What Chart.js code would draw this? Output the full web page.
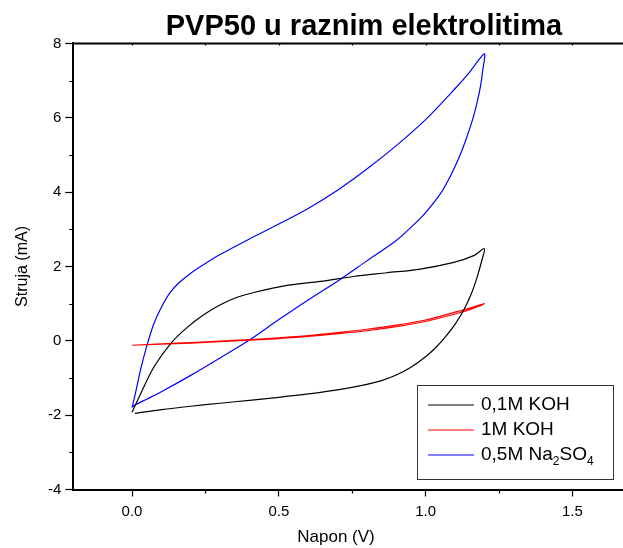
<!DOCTYPE html>
<html lang="sr">
<head>
<meta charset="UTF-8">
<title>PVP50 u raznim elektrolitima</title>
<script src="https://cdn.jsdelivr.net/npm/chart.js"></script>
<style>
    body { margin: 0; background: #fff; overflow: hidden; }
    #wrap { width: 728px; height: 548px; }
</style>
</head>
<body>
<div id="wrap"><canvas id="cv" width="728" height="548"></canvas></div>
<script>
// 0,1M KOH - one closed CV loop (upper branch, then back along the lower one)
const koh01V = [0, 0.029, 0.074, 0.131, 0.188, 0.244, 0.301, 0.358, 0.415, 0.528, 0.642, 0.755, 0.869, 0.982, 1.096, 1.164, 1.2,
                1.19, 1.175, 1.155, 1.13, 1.10, 1.07, 1.04, 1.0, 0.95, 0.9, 0.85, 0.8, 0.7, 0.6, 0.5, 0.4, 0.3, 0.2, 0.1, 0.01];
const koh01I = [-1.92, -1.43, -0.71, -0.08, 0.36, 0.70, 0.97, 1.17, 1.30, 1.49, 1.60, 1.73, 1.83, 1.93, 2.11, 2.29, 2.48,
                2.12, 1.70, 1.25, 0.83, 0.44, 0.13, -0.14, -0.43, -0.71, -0.92, -1.07, -1.17, -1.32, -1.43, -1.52, -1.60, -1.68, -1.76, -1.85, -1.95];

// 1M KOH
const koh1V = [0, 0.1, 0.2, 0.3, 0.4, 0.5, 0.6, 0.7, 0.8, 0.9, 1.0, 1.1, 1.15, 1.2,
               1.15, 1.1, 1.0, 0.9, 0.8, 0.7, 0.6, 0.5, 0.4, 0.3, 0.2, 0.1, 0];
const koh1I = [-0.12, -0.08, -0.05, -0.01, 0.03, 0.08, 0.14, 0.22, 0.31, 0.42, 0.56, 0.77, 0.88, 1.0,
               0.84, 0.72, 0.52, 0.38, 0.27, 0.19, 0.12, 0.06, 0.02, -0.02, -0.06, -0.09, -0.12];

// 0,5M Na2SO4
const naV = [0, 0.012, 0.029, 0.05, 0.074, 0.1, 0.13, 0.16, 0.2, 0.25, 0.3, 0.4, 0.5, 0.6, 0.7, 0.8, 0.9, 1.0, 1.1, 1.15, 1.2,
             1.195, 1.187, 1.175, 1.16, 1.14, 1.115, 1.085, 1.05, 1.0, 0.95, 0.9, 0.8, 0.7, 0.6, 0.5, 0.4, 0.3, 0.2, 0.1, 0.05, 0.012, 0];
const naI = [-1.80, -1.40, -0.78, -0.15, 0.45, 0.90, 1.30, 1.56, 1.82, 2.08, 2.32, 2.74, 3.14, 3.56, 4.05, 4.62, 5.25, 5.95, 6.78, 7.23, 7.72,
             7.30, 6.85, 6.40, 5.95, 5.47, 4.95, 4.44, 3.95, 3.45, 3.05, 2.70, 2.15, 1.60, 1.10, 0.57, 0.02, -0.46, -0.93, -1.37, -1.57, -1.72, -1.78];

const seriesLabels = ['0,1M KOH', '1M KOH', '0,5M Na₂SO₄'];
const seriesColors = ['#000000', '#ff0000', '#0000ff'];

// the frame runs on past the right edge of the picture
const xMin = -0.2, xMax = 2.03;
const xTicks = [0, 0.5, 1.0, 1.5];
const xMinorTicks = [0.25, 0.75, 1.25, 1.75];
const yTicks = [-4, -2, 0, 2, 4, 6, 8];
const yMinorTicks = [-3, -1, 1, 3, 5, 7];

function toPoints(xs, ys) {
    return xs.map((x, i) => ({ x: x, y: ys[i] }));
}

// minor ticks, top frame line, x axis title and the boxed legend (Origin style)
const framePlugin = {
    id: 'frame',
    afterDraw(chart) {
        const ctx = chart.ctx;
        const area = chart.chartArea;
        const xs = chart.scales.x;
        const ys = chart.scales.y;
        ctx.save();
        ctx.strokeStyle = '#000';

        ctx.lineWidth = 2;
        ctx.beginPath();
        ctx.moveTo(area.left - 1, area.top);
        ctx.lineTo(area.right, area.top);
        ctx.stroke();

        ctx.lineWidth = 1.2;
        ctx.beginPath();
        yMinorTicks.forEach(v => {
            const py = Math.round(ys.getPixelForValue(v)) + 0.5;
            ctx.moveTo(area.left - 4, py);
            ctx.lineTo(area.left, py);
        });
        xMinorTicks.forEach(v => {
            const px = Math.round(xs.getPixelForValue(v)) + 0.5;
            ctx.moveTo(px, area.bottom);
            ctx.lineTo(px, area.bottom + 4);
        });
        xTicks.concat(xMinorTicks).forEach(v => {
            const px = Math.round(xs.getPixelForValue(v)) + 0.5;
            ctx.moveTo(px, area.top);
            ctx.lineTo(px, area.top + 2);
        });
        ctx.stroke();

        ctx.fillStyle = '#000';
        ctx.font = '17px Arial';
        ctx.textAlign = 'center';
        ctx.textBaseline = 'middle';
        ctx.fillText('Napon (V)', 336, 537);
        ctx.textAlign = 'left';

        // legend box
        const bx = 417.5, by = 385.5, bw = 196, bh = 94;
        ctx.fillStyle = '#fff';
        ctx.fillRect(bx, by, bw, bh);
        ctx.strokeStyle = '#333';
        ctx.lineWidth = 1;
        ctx.strokeRect(bx, by, bw, bh);

        const subDigits = '₀₁₂₃₄₅₆₇₈₉';
        seriesLabels.forEach((lab, i) => {
            const ry = 405 + i * 25;
            ctx.strokeStyle = seriesColors[i];
            ctx.lineWidth = 1;
            ctx.beginPath();
            ctx.moveTo(428, ry);
            ctx.lineTo(474, ry);
            ctx.stroke();

            let tx = 481;
            ctx.fillStyle = '#000';
            for (const ch of lab) {
                const k = subDigits.indexOf(ch);
                if (k >= 0) {
                    ctx.font = '12px Arial';
                    ctx.fillText(String(k), tx, ry + 7);
                    tx += ctx.measureText(String(k)).width;
                } else {
                    ctx.font = '19px Arial';
                    ctx.fillText(ch, tx, ry);
                    tx += ctx.measureText(ch).width;
                }
            }
        });
        ctx.restore();
    }
};

const datasets = [
    toPoints(koh01V, koh01I),
    toPoints(koh1V, koh1I),
    toPoints(naV, naI)
].map((pts, i) => ({
    label: seriesLabels[i],
    data: pts,
    showLine: true,
    borderColor: seriesColors[i],
    backgroundColor: seriesColors[i],
    borderWidth: 1.2,
    pointRadius: 0,
    tension: 0.3,
    fill: false
}));

new Chart(document.getElementById('cv').getContext('2d'), {
    type: 'scatter',
    data: { datasets: datasets },
    options: {
        responsive: false,
        animation: false,
        layout: { padding: 0 },
        plugins: {
            legend: { display: false },
            tooltip: { enabled: false },
            title: {
                display: true,
                text: 'PVP50 u raznim elektrolitima',
                color: '#000',
                font: { family: 'Arial', size: 29, weight: 'bold', lineHeight: 1.1 },
                padding: { top: 11.5, bottom: 0 }
            }
        },
        scales: {
            x: {
                type: 'linear',
                min: xMin,
                max: xMax,
                afterBuildTicks: s => { s.ticks = xTicks.map(v => ({ value: v })); },
                afterFit: s => { s.height = 58.5; },
                ticks: {
                    color: '#000',
                    font: { family: 'Arial', size: 15 },
                    padding: 6,
                    maxRotation: 0,
                    callback: v => Number(v).toFixed(1)
                },
                grid: { drawOnChartArea: false, tickLength: 7, tickWidth: 1.2, tickColor: '#000' },
                border: { display: true, color: '#000', width: 2 },
                title: { display: false }
            },
            y: {
                type: 'linear',
                min: -4,
                max: 8,
                afterBuildTicks: s => { s.ticks = yTicks.map(v => ({ value: v })); },
                afterFit: s => { s.width = 73.3; },
                ticks: {
                    color: '#000',
                    font: { family: 'Arial', size: 15 },
                    padding: 4,
                    callback: v => String(v)
                },
                grid: { drawOnChartArea: false, tickLength: 8, tickWidth: 1.2, tickColor: '#000' },
                border: { display: true, color: '#000', width: 2 },
                title: { display: true, text: 'Struja (mA)', color: '#000', font: { family: 'Arial', size: 16 }, padding: 13 }
            }
        }
    },
    plugins: [framePlugin]
});
</script>
</body>
</html>
